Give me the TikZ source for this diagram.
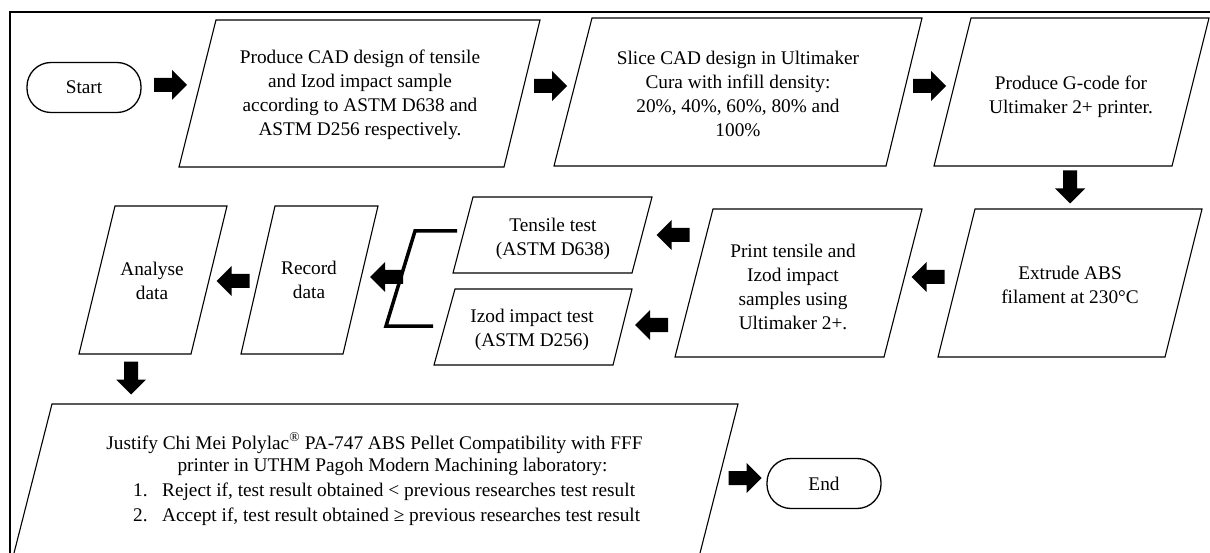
\documentclass[tikz,border=0pt]{standalone}
\usepackage{fontspec}
\setmainfont{Liberation Serif}
\begin{document}
\begin{tikzpicture}[x=1pt,y=-1pt,
  box/.style={draw, line width=1.1pt, line join=miter},
  txt/.style={font=\fontsize{19.3}{24}\selectfont, align=center, inner sep=0pt},
  term/.style={draw, line width=1.3pt, rounded corners=24pt, minimum width=114pt,
               minimum height=50pt, inner sep=0pt, font=\fontsize{19.3}{24}\selectfont},
  bracket/.style={line width=3.5pt},
  blockarrow/.pic={\fill (-16.5,-7) -- (1.5,-7) -- (1.5,-15) -- (16.5,0) -- (1.5,15)
                         -- (1.5,7) -- (-16.5,7) -- cycle;}
]
\useasboundingbox (0,0) rectangle (1210,553);
\clip (0,0) rectangle (1210,553);

% outer frame
\draw[line width=1.4pt] (10,12) rectangle (1230,570);

% row 1
\node[term] (start) at (84,87.5) {Start};

\draw[box] (216,20) -- (540,20) -- (504,167) -- (179,167) -- cycle;
\node[txt] (cad) at (360,95) {Produce CAD design of tensile\\and Izod impact sample\\according to ASTM D638 and\\ASTM D256 respectively.};

\draw[box] (592,18) -- (922,18) -- (886,166) -- (554,166) -- cycle;
\node[txt] (slice) at (738,94) {Slice CAD design in Ultimaker\\Cura with infill density:\\20\%, 40\%, 60\%, 80\% and\\100\%};

\draw[box] (971,18) -- (1209,18) -- (1172,166) -- (934,166) -- cycle;
\node[txt] (gcode) at (1071,96.5) {Produce G-code for\\Ultimaker 2+ printer.};

% row 2
\draw[box] (975,209) -- (1202,209) -- (1165,357) -- (938,357) -- cycle;
\node[txt] (extrude) at (1070,284.5) {Extrude ABS\\filament at 230°C};

\draw[box] (713,209) -- (922,209) -- (884,357) -- (675,357) -- cycle;
\node[txt] (print) at (793,287) {Print tensile and\\Izod impact\\samples using\\Ultimaker 2+.};

\draw[box] (473,197) -- (652,197) -- (632,273) -- (453,273) -- cycle;
\node[txt] (tensile) at (553,238.5) {Tensile test\\(ASTM D638)};

\draw[box] (455,289) -- (632,289) -- (613,365) -- (434,365) -- cycle;
\node[txt] (izod) at (532,330) {Izod impact test\\(ASTM D256)};

\draw[box] (275,206) -- (378,206) -- (343,354) -- (241,354) -- cycle;
\node[txt] (record) at (309,280) {Record\\data};

\draw[box] (115,206) -- (227,206) -- (191,354) -- (79,354) -- cycle;
\node[txt] (analyse) at (152,280.5) {Analyse\\data};

% bracket joining the two tests
\coordinate (bt) at (457,231);
\coordinate (bb) at (433,326);
\draw[bracket] (bt) -- (415,231) -- (386,326) -- (bb);

% row 3
\draw[box] (52,404) -- (738,404) -- (695.7,570) -- (9.7,570) -- cycle;
\node[txt] (j1) at (374.5,443) {Justify Chi Mei Polylac\textsuperscript{®} PA-747 ABS Pellet Compatibility with FFF};
\node[txt] (j2) at (392.5,467) {printer in UTHM Pagoh Modern Machining laboratory:};
\node[txt, anchor=west] (j3) at (133,492) {\makebox[29pt][l]{1.}Reject if, test result obtained < previous researches test result};
\node[txt, anchor=west] (j4) at (133,517) {\makebox[29pt][l]{2.}Accept if, test result obtained ≥ previous researches test result};

\node[term] (end) at (824,483.5) {End};

% block arrows
\pic (a1) at (170.5,85) {blockarrow};
\pic (a2) at (550.5,86) {blockarrow};
\pic (a3) at (929.5,86) {blockarrow};
\pic[rotate=-90] (a4) at (1070,187) {blockarrow};
\pic[rotate=180] (a5) at (928,277) {blockarrow};
\pic[rotate=180] (a6) at (673,235) {blockarrow};
\pic[rotate=180] (a7) at (651.5,325) {blockarrow};
\pic[rotate=180] (a8) at (386.5,277) {blockarrow};
\pic[rotate=180] (a9) at (233,281) {blockarrow};
\pic[rotate=-90] (a10) at (131,378) {blockarrow};
\pic (a11) at (745,478) {blockarrow};
\end{tikzpicture}
\end{document}
